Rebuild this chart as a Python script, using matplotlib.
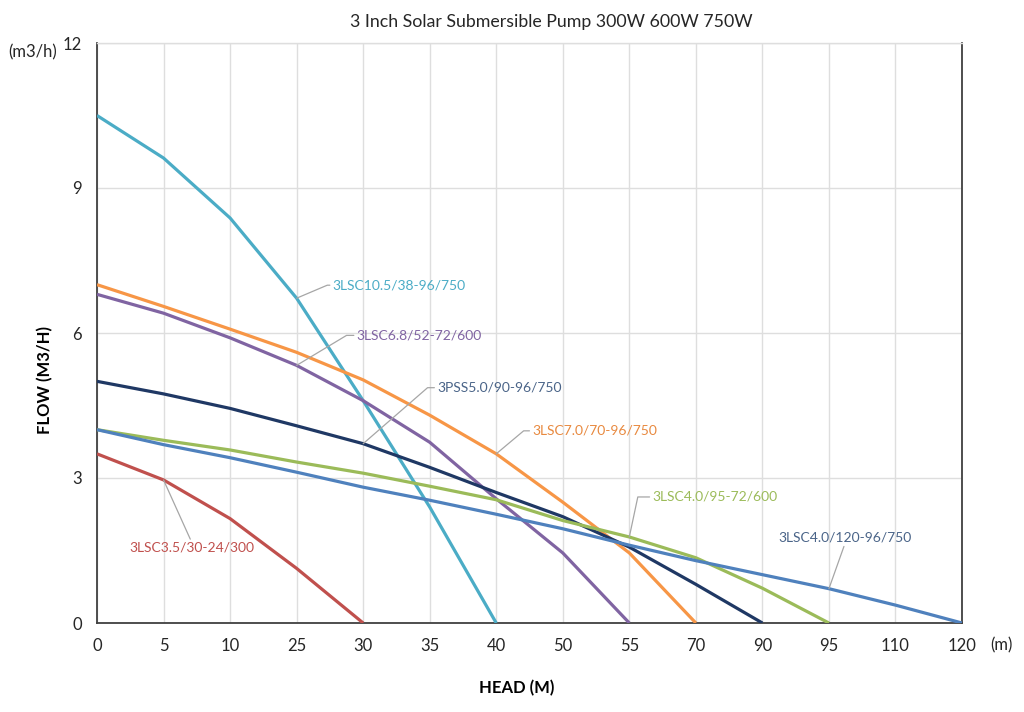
import matplotlib
matplotlib.use("Agg")
import matplotlib.pyplot as plt

plt.rcParams['font.family'] = ['Lato', 'DejaVu Sans']

heads = ['0', '5', '10', '25', '30', '35', '40', '50', '55', '70', '90', '95', '110', '120']

lsc10_5 = [10.5, 9.62, 8.38, 6.72, 4.6, 2.4, 0]
lsc7_0 = [7.0, 6.55, 6.08, 5.6, 5.03, 4.3, 3.5, 2.5, 1.45, 0]
lsc6_8 = [6.8, 6.41, 5.9, 5.33, 4.6, 3.74, 2.57, 1.45, 0]
pss5_0 = [5.0, 4.74, 4.44, 4.08, 3.71, 3.22, 2.7, 2.2, 1.57, 0.8, 0]
lsc4_0_95 = [4.0, 3.78, 3.58, 3.33, 3.1, 2.83, 2.55, 2.12, 1.78, 1.35, 0.72, 0]
lsc4_0_120 = [4.0, 3.69, 3.42, 3.12, 2.81, 2.54, 2.25, 1.95, 1.61, 1.29, 1.0, 0.71, 0.37, 0]
lsc3_5 = [3.5, 2.96, 2.16, 1.13, 0]

series = [
    ("3LSC10.5/38-96/750", lsc10_5, "#4BACC6", "#4BACC6", 3, (36, 13), 23, 'left'),
    ("3LSC6.8/52-72/600", lsc6_8, "#8064A2", "#8064A2", 3, (60, 30), 31, 'left'),
    ("3LSC7.0/70-96/750", lsc7_0, "#F79646", "#E8893F", 6, (36, 23), 40, 'left'),
    ("3PSS5.0/90-96/750", pss5_0, "#1F3864", "#4A6488", 4, (74, 56), 41, 'left'),
    ("3LSC4.0/95-72/600", lsc4_0_95, "#9BBB59", "#9BBB59", 8, (23, 40), 78, 'left'),
    ("3LSC4.0/120-96/750", lsc4_0_120, "#4F81BD", "#4A6488", 11, (16, 51), None, 'above'),
    ("3LSC3.5/30-24/300", lsc3_5, "#C0504D", "#C0504D", 1, (28, -68), None, 'below'),
]

fig = plt.figure(figsize=(10.24, 7.12), dpi=100)
ax = fig.add_axes([97/1024, 1-623/712, 865/1024, 580/712])

for name, vals, lc, tc, idx, off, ang, mode in series:
    ax.plot(range(len(vals)), vals, color=lc, lw=2.3, solid_capstyle='butt', zorder=3)

for name, vals, lc, tc, idx, off, ang, mode in series:
    if mode == 'left':
        ax.annotate(name, xy=(idx, vals[idx]), xytext=off, textcoords='offset pixels',
                    ha='left', va='center', color=tc, fontsize=10,
                    arrowprops=dict(arrowstyle='-', color='#A6A6A6', lw=0.9,
                                    shrinkA=0, shrinkB=0, relpos=(0, 0.5),
                                    connectionstyle=f'angle,angleA=0,angleB={ang},rad=0'),
                    zorder=4)
    elif mode == 'above':
        ax.annotate(name, xy=(idx, vals[idx]), xytext=off, textcoords='offset pixels',
                    ha='center', va='center', color=tc, fontsize=10,
                    arrowprops=dict(arrowstyle='-', color='#A6A6A6', lw=0.9,
                                    shrinkA=0, shrinkB=0, relpos=(0.5, 0)),
                    zorder=4)
    else:
        ax.annotate(name, xy=(idx, vals[idx]), xytext=off, textcoords='offset pixels',
                    ha='center', va='center', color=tc, fontsize=10,
                    arrowprops=dict(arrowstyle='-', color='#A6A6A6', lw=0.9,
                                    shrinkA=0, shrinkB=0, relpos=(0.5, 1)),
                    zorder=4)

ax.set_xlim(0, len(heads) - 1)
ax.set_ylim(0, 12)
ax.set_xticks(range(len(heads)))
ax.set_xticklabels(heads)
ax.set_yticks([0, 3, 6, 9, 12])
ax.tick_params(axis='both', length=0, labelsize=12, colors='#262626')
ax.tick_params(axis='x', pad=11)
ax.tick_params(axis='y', pad=11)
ax.grid(True, color='#DEDEDE', lw=1)
ax.set_axisbelow(True)
for s in ['left', 'bottom', 'right']:
    ax.spines[s].set_color('#404040')
    ax.spines[s].set_linewidth(1.3)
ax.spines['top'].set_color('#DEDEDE')
ax.spines['top'].set_linewidth(1)

fig.text(551/1024, 1-22/712, "3 Inch Solar Submersible Pump 300W 600W 750W",
         ha='center', va='center', fontsize=12.8, color='#262626')
fig.text(33/1024, 1-52/712, "(m3/h)", ha='center', va='center', fontsize=12, color='#262626')
fig.text(1001/1024, 1-645/712, "(m)", ha='center', va='center', fontsize=12, color='#262626')
fig.text(45/1024, 1-380/712, "FLOW (M3/H)", ha='center', va='center', rotation=90,
         fontsize=12, fontweight='bold', color='#000000')
fig.text(517/1024, 1-688/712, "HEAD (M)", ha='center', va='center',
         fontsize=12, fontweight='bold', color='#000000')

fig.savefig("out.png", dpi=100, facecolor='white')
